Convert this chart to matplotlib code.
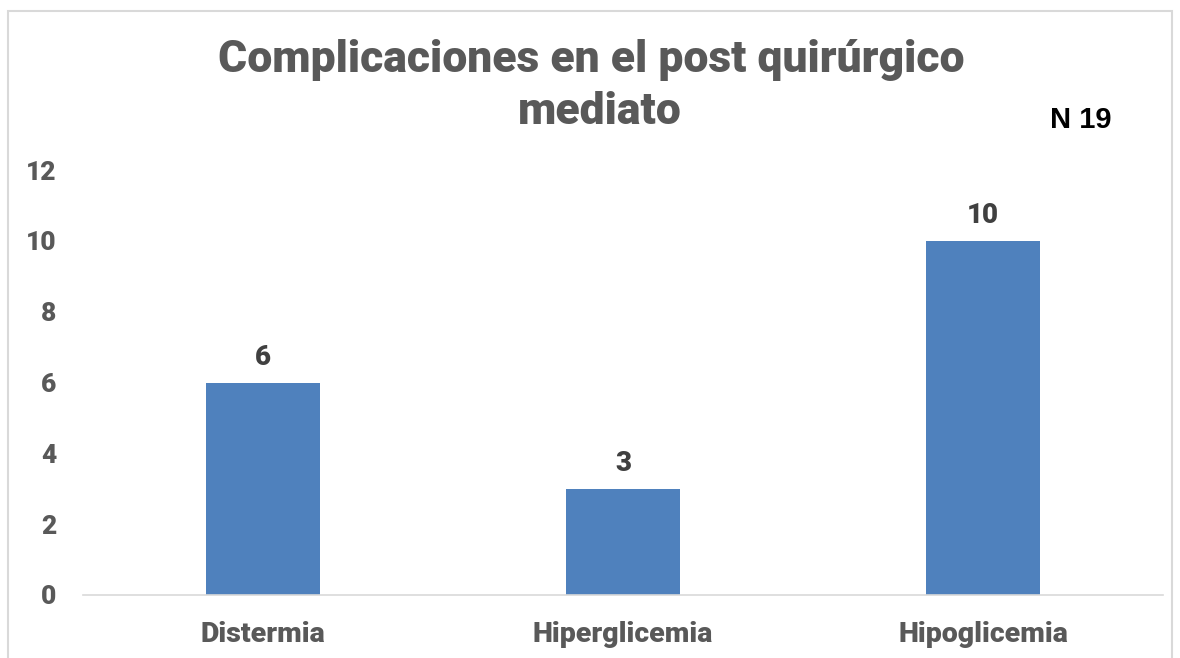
import matplotlib.pyplot as plt
from matplotlib.patches import Rectangle

categorias = ['Distermia', 'Hiperglicemia', 'Hipoglicemia']
valores = [6, 3, 10]
yticks = [0, 2, 4, 6, 8, 10, 12]

gris = '#595959'
azul = '#4F81BD'
plt.rcParams['font.family'] = ['Roboto', 'Liberation Sans', 'DejaVu Sans']
peso = 900

fig = plt.figure(figsize=[11.8, 6.58], dpi=100)
ax = fig.add_axes([83/1180, 63/658, 1080/1180, 425/658])

x = range(len(categorias))
barras = ax.bar(x, valores, width=0.314, color=azul)
for xi, v in zip(x, valores):
	ax.text(xi, v + 0.33, str(v), ha='center', va='bottom', fontsize=20,
			fontweight=peso, color='#404040')

ax.set_xlim(-0.5, 2.5)
ax.set_ylim(0, 12)
ax.set_yticks(yticks)
ax.set_yticklabels([str(t) for t in yticks], fontsize=19, fontweight=peso, color=gris)
ax.set_xticks(list(x))
ax.set_xticklabels(categorias, fontsize=20.5, fontweight=peso, color=gris)
ax.tick_params(axis='both', length=0)
ax.tick_params(axis='y', pad=19)
ax.tick_params(axis='x', pad=19)
for s in ['top', 'right', 'left']:
	ax.spines[s].set_visible(False)
ax.spines['bottom'].set_color('#d9d9d9')
ax.spines['bottom'].set_linewidth(1.2)

fig.text(591/1180, 1 - 60/658, 'Complicaciones en el post quirúrgico', ha='center', va='center',
		 fontsize=32, fontweight=peso, color=gris)
fig.text(600/1180, 1 - 112/658, 'mediato', ha='center', va='center',
		 fontsize=32, fontweight=peso, color=gris)
fig.text(1081/1180, 1 - 120/658, 'N 19', ha='center', va='center',
		 fontsize=21, fontweight='bold', color='black', family=['Liberation Sans', 'DejaVu Sans'])

# borde del grafico
fig.patches.append(Rectangle((8/1180, -0.05), 1164/1180, 1 - 11/658 + 0.05,
							 transform=fig.transFigure, fill=False,
							 edgecolor='#d9d9d9', linewidth=1.5))

plt.savefig('out.png', dpi=100)
